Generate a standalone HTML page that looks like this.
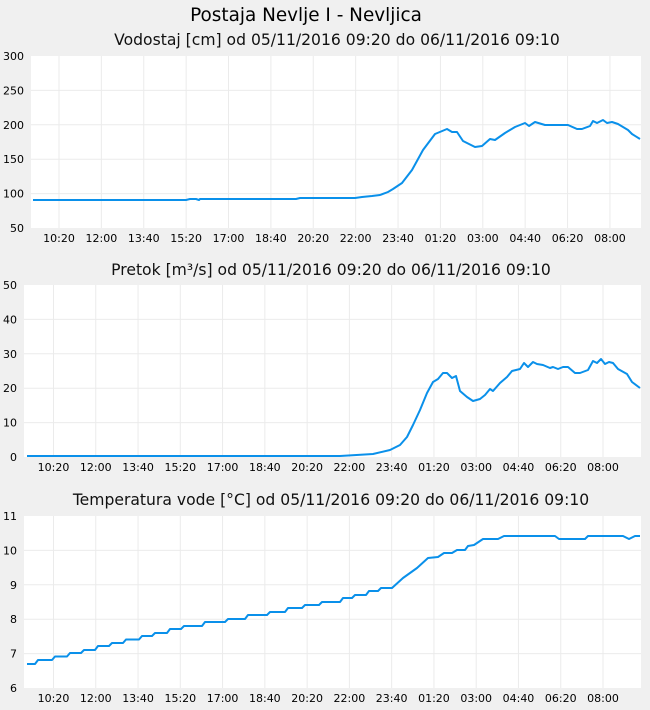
<!DOCTYPE html>
<html><head><meta charset="utf-8"><style>
html,body{margin:0;padding:0;background:#f0f0f0;}
svg{display:block;font-family:"DejaVu Sans","Liberation Sans",sans-serif;}
</style></head><body>
<svg id="s" width="650" height="710" xmlns="http://www.w3.org/2000/svg">
<rect width="650" height="710" fill="#f0f0f0"/>
<text x="306" y="21" font-size="18.4" text-anchor="middle" fill="#000">Postaja Nevlje I - Nevljica</text>
<text x="337" y="45" font-size="15.6" text-anchor="middle" fill="#111">Vodostaj [cm] od 05/11/2016 09:20 do 06/11/2016 09:10</text>
<text x="331" y="275" font-size="15.6" text-anchor="middle" fill="#111">Pretok [m³/s] od 05/11/2016 09:20 do 06/11/2016 09:10</text>
<text x="331" y="505" font-size="15.6" text-anchor="middle" fill="#111">Temperatura vode [°C] od 05/11/2016 09:20 do 06/11/2016 09:10</text>
<rect x="31" y="56" width="610" height="172" fill="#fff"/>
<rect x="24" y="285" width="617" height="172" fill="#fff"/>
<rect x="24" y="516" width="617" height="172" fill="#fff"/>
<g id="g" stroke="#ebebeb" stroke-width="1"></g>
<g id="t" font-size="11" fill="#000"></g>
<polyline fill="none" stroke="#0a90ea" stroke-width="2" stroke-linejoin="round" points="33,200 186,200 190,199 196,199 199,200 200,199 296,199 300,198 355,198 362,197 372,196 380,195 388,192 393,189 402,183 412,170 423,150 435,134 447,129 452,132 457,132 463,141 475,147 482,146 490,139 495,140 505,133 515,127 525,123 529,126 535,122 545,125 568,125 577,129 582,129 590,126 593,121 597,123 603,120 607,123 612,122 618,124 628,130 632,134 640,139"/>
<polyline fill="none" stroke="#0a90ea" stroke-width="2" stroke-linejoin="round" points="27,456 340,456 373,454 390,450 400,445 407,437 413,425 420,410 427,393 433,382 438,379 443,373 447,373 452,378 456,376 460,391 467,397 473,401 480,399 485,395 490,389 493,391 500,383 507,377 512,371 520,369 524,363 528,367 533,362 537,364 543,365 550,368 553,367 558,369 563,367 568,367 575,373 580,373 588,370 593,361 597,363 601,359 605,364 609,362 613,363 618,369 627,374 632,382 640,388"/>
<polyline id="tp" fill="none" stroke="#0a90ea" stroke-width="2" stroke-linejoin="round" points=""/>
</svg>
<script>
var NS="http://www.w3.org/2000/svg",g=document.getElementById('g'),t=document.getElementById('t');
function ln(x1,y1,x2,y2){var l=document.createElementNS(NS,'line');l.setAttribute('x1',x1);l.setAttribute('y1',y1);l.setAttribute('x2',x2);l.setAttribute('y2',y2);g.appendChild(l);}
function tx(x,y,s,a){var e=document.createElementNS(NS,'text');e.setAttribute('x',x);e.setAttribute('y',y);e.setAttribute('text-anchor',a);e.textContent=s;t.appendChild(e);}
var labs=["10:20","12:00","13:40","15:20","17:00","18:40","20:20","22:00","23:40","01:20","03:00","04:40","06:20","08:00"];
function chart(x0,x1,top,bot,ylabs,g0,step){
 var n=ylabs.length-1;
 for(var i=0;i<=n;i++){var y=bot-(bot-top)*i/n;if(i>0&&i<n)ln(x0,y,x1,y);tx(x0-7,y+4,ylabs[i],'end');}
 for(var j=0;j<labs.length;j++){var x=g0+step*j;ln(x,top,x,bot);tx(x,bot+14,labs[j],'middle');}
}
chart(31,641,56,228,["50","100","150","200","250","300"],59,42.38);
chart(24,641,285,457,["0","10","20","30","40","50"],53.5,42.27);
chart(24,641,516,688,["6","7","8","9","10","11"],53.5,42.27);
var st=[[664,27],[660,38],[656.5,55],[653,70],[650,84],[646,98],[643,112],[639.5,126],[636,142],[633,155],[629,170],[626,184],[622,205],[619,228],[615,248],[612,270],[608,288],[605,305],[602,322],[598,343],[595,355],[591,369],[588,381]];
var p=[];
for(var i=0;i<st.length;i++){var y=st[i][0],x=st[i][1];p.push(x+','+y);var xe=i+1<st.length?st[i+1][1]-3:392;p.push(xe+','+y);}
p=p.concat(["403,578","417,568","428,558","438,557","444,553","452,553","457,550","465,550","468,546","474,545","483,539","498,539","504,536","555,536","559,539","585,539","588,536","623,536","629,539","635,536","640,536"]);
document.getElementById('tp').setAttribute('points',p.join(' '));
</script>
</body></html>
